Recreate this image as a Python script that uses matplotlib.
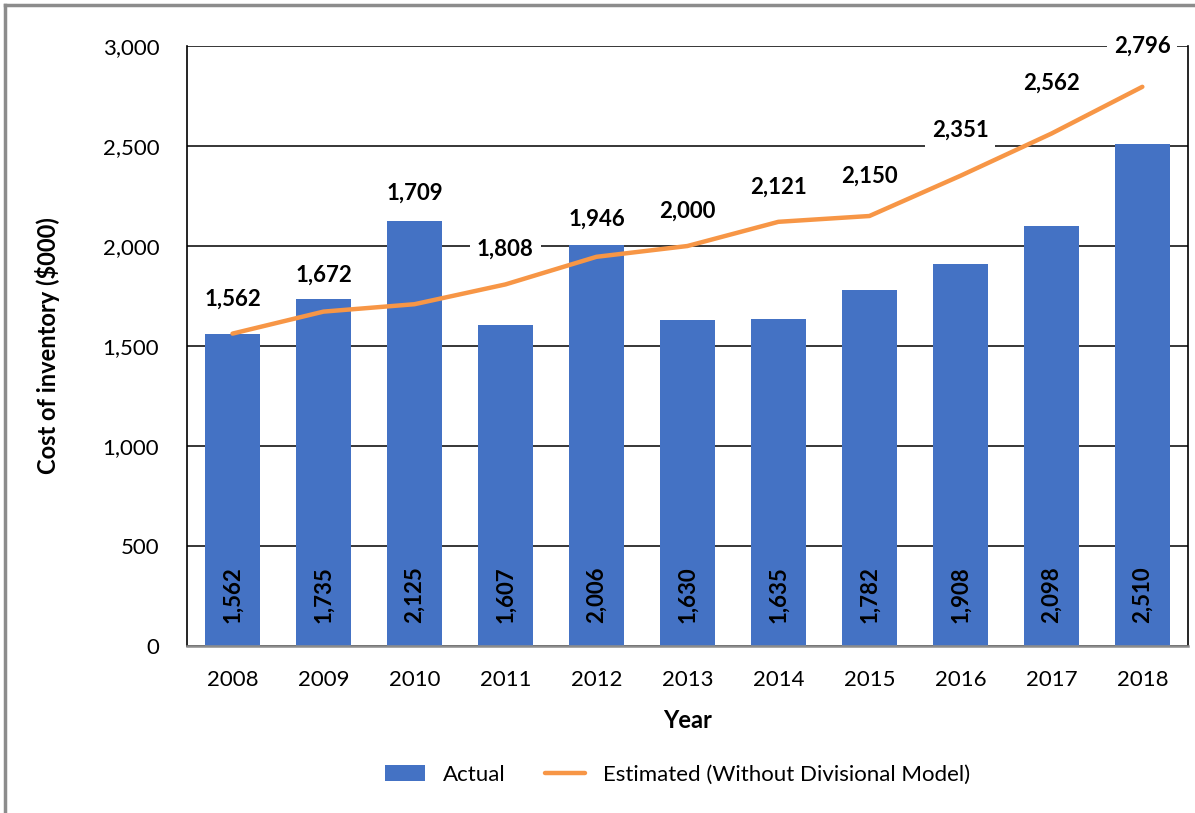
import numpy as np
import matplotlib.pyplot as plt
from matplotlib.lines import Line2D

plt.rcParams['font.family'] = ['Lato', 'DejaVu Sans']

# dati
anni = ['2008', '2009', '2010', '2011', '2012', '2013', '2014', '2015', '2016', '2017', '2018']
actual = [1562, 1735, 2125, 1607, 2006, 1630, 1635, 1782, 1908, 2098, 2510]
estimated = [1562, 1672, 1709, 1808, 1946, 2000, 2121, 2150, 2351, 2562, 2796]

# spostamento etichette della linea (punti, verso l'alto)
off_lab = [25, 26, 80, 25, 27, 25, 25, 29, 33, 36, 29]

fig = plt.figure(figsize=(11.95, 8.13), dpi=100)
ax = fig.add_axes([0.1565, 0.2054, 0.8375, 0.738])

x = np.arange(len(anni))
barre = ax.bar(x, actual, width=0.6, color='#4472C4', zorder=2, label='Actual')
linea, = ax.plot(x, estimated, color='#F79646', linewidth=3.2, zorder=3,
                 solid_capstyle='round', label='Estimated (Without Divisional Model)')

# etichette dentro le barre
for i, v in enumerate(actual):
    ax.annotate('{:,}'.format(v), (x[i], 0), xytext=(0, 37), textcoords='offset points',
                rotation=90, ha='center', va='center', fontsize=16, fontweight='bold',
                color='black', zorder=4)

# etichette della linea
for i, v in enumerate(estimated):
    ax.annotate('{:,}'.format(v), (x[i], v), xytext=(0, off_lab[i]), textcoords='offset points',
                ha='center', va='center', fontsize=16, fontweight='bold', color='black', zorder=5,
                bbox=dict(boxstyle='square,pad=0.3', fc='white', ec='none'))

ax.set_xlim(-0.5, 10.5)
ax.set_ylim(0, 3000)
ax.set_yticks(np.arange(0, 3001, 500))
ax.set_yticklabels(['{:,}'.format(t) for t in range(0, 3001, 500)])
ax.set_xticks(x)
ax.set_xticklabels(anni)
ax.tick_params(axis='both', length=0, labelsize=16)
ax.tick_params(axis='x', pad=17)
ax.tick_params(axis='y', pad=20)
ax.yaxis.grid(True, color='black', linewidth=1.1, zorder=0)
ax.set_axisbelow(True)
ax.spines['top'].set_visible(False)
ax.spines['left'].set_color('black')
ax.spines['left'].set_linewidth(1.2)
ax.spines['right'].set_color('black')
ax.spines['right'].set_linewidth(1.2)
ax.spines['bottom'].set_color('#8c8c8c')
ax.spines['bottom'].set_linewidth(1.8)

ax.set_xlabel('Year', fontsize=17, fontweight='bold', labelpad=14)
ax.set_ylabel('Cost of inventory ($000)', fontsize=17, fontweight='bold', labelpad=31)

ax.legend([barre, linea], ['Actual', 'Estimated (Without Divisional Model)'],
          loc='upper center', bbox_to_anchor=(0.49, -0.165), ncol=2, frameon=False,
          fontsize=16, handlelength=1.8, columnspacing=1.8, handletextpad=0.8)

# cornice grigia
fig.add_artist(Line2D([0.0045, 0.0045], [0, 0.994], transform=fig.transFigure,
                      color='#8c8c8c', linewidth=2.5))
fig.add_artist(Line2D([0.0045, 1], [0.994, 0.994], transform=fig.transFigure,
                      color='#8c8c8c', linewidth=2.5))

plt.savefig('out.png', dpi=100)
